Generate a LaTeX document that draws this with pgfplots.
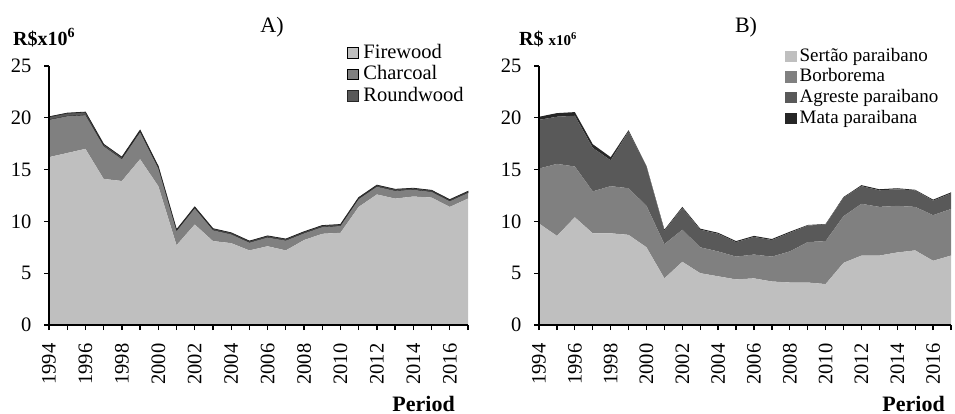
\documentclass[border=0pt]{standalone}
\usepackage{pgfplots}
\pgfplotsset{compat=1.18}
\usepackage{pgfplotstable}
\usepackage{fontspec}
\setmainfont{Liberation Serif}
\definecolor{cL}{HTML}{BFBFBF}
\definecolor{cM}{HTML}{808080}
\definecolor{cD}{HTML}{595959}
\definecolor{cK}{HTML}{262626}
\pgfplotstableread{
year fire char round
1994 16.2 3.60 0.30
1995 16.6 3.55 0.30
1996 17.0 3.25 0.30
1997 14.1 3.15 0.20
1998 13.9 2.10 0.20
1999 16.0 2.60 0.20
2000 13.4 1.70 0.20
2001 7.7 1.35 0.15
2002 9.7 1.55 0.15
2003 8.1 1.05 0.15
2004 7.9 0.85 0.15
2005 7.2 0.75 0.15
2006 7.6 0.85 0.15
2007 7.2 0.95 0.15
2008 8.2 0.65 0.15
2009 8.8 0.65 0.15
2010 8.9 0.65 0.15
2011 11.4 0.75 0.15
2012 12.6 0.75 0.15
2013 12.2 0.75 0.15
2014 12.4 0.65 0.15
2015 12.3 0.55 0.15
2016 11.4 0.55 0.15
2017 12.2 0.55 0.15
}\dataA
\pgfplotstableread{
year sert borb agr mata
1994 9.80 5.30 4.70 0.30
1995 8.60 6.95 4.55 0.35
1996 10.40 4.90 4.90 0.35
1997 8.85 4.05 4.20 0.35
1998 8.85 4.55 2.50 0.30
1999 8.70 4.50 5.50 0.10
2000 7.50 4.00 3.80 0.05
2001 4.50 3.30 1.30 0.10
2002 6.10 3.10 2.10 0.10
2003 5.00 2.50 1.70 0.10
2004 4.70 2.40 1.70 0.10
2005 4.40 2.20 1.40 0.10
2006 4.50 2.30 1.70 0.10
2007 4.20 2.40 1.60 0.10
2008 4.10 3.00 1.80 0.10
2009 4.10 3.90 1.60 0.05
2010 3.95 4.15 1.60 0.05
2011 6.00 4.50 1.80 0.05
2012 6.70 5.00 1.70 0.10
2013 6.70 4.70 1.60 0.10
2014 7.00 4.50 1.60 0.10
2015 7.20 4.20 1.60 0.05
2016 6.20 4.40 1.40 0.10
2017 6.70 4.50 1.50 0.10
}\dataB
\pgfplotsset{
  mystyle/.style={
    scale only axis, height=259bp, clip=false,
    xmin=1994, xmax=2017, ymin=0, ymax=25,
    axis x line=bottom, axis y line=left,
    axis line style={-, line width=1.3bp, black},
    tick align=outside, major tick length=5bp, minor tick length=5bp,
    tick style={black, line width=1.3bp},
    xtick={1994,1996,...,2016}, minor xtick={1995,1997,...,2017},
    ytick={0,5,...,25},
    /pgf/number format/1000 sep={},
    /pgf/number format/assume math mode=true,
    tick label style={font=\fontsize{20.5bp}{24bp}\selectfont},
    x tick label style={rotate=90, anchor=east},
    xticklabel shift=10bp, yticklabel shift=9bp,
    stack plots=y, area style, enlargelimits=false,
    legend cell align=left,
  },
}
\begin{document}
\begin{tikzpicture}
\useasboundingbox (-49bp,-89bp) rectangle (906bp,325bp);
\begin{axis}[mystyle, width=419bp, at={(0bp,0bp)},
  legend style={draw=none, fill=none, at={(0.711,1.087)}, anchor=north west, inner sep=0pt,
    font=\fontsize{20.5bp}{24bp}\selectfont,
    nodes={inner sep=0pt, text height=14.5bp, text depth=4bp},
    row sep=3bp,
    /tikz/every odd column/.append style={column sep=5bp}},
  legend image code/.code={\draw[#1, line width=0.8bp] (0bp,-5.25bp) rectangle (10.5bp,5.25bp);}]
\addplot[fill=cL, draw=none] table[x=year, y=fire]{\dataA} \closedcycle;
\addplot[fill=cM, draw=none] table[x=year, y=char]{\dataA} \closedcycle;
\addplot[fill=cD, draw=black!85, line width=0.8bp] table[x=year, y=round]{\dataA} \closedcycle;
\legend{Firewood, Charcoal, Roundwood}
\node[anchor=base, inner sep=0pt, font=\fontsize{22bp}{26bp}\selectfont] at (rel axis cs:0,1) [shift={(223bp,34bp)}] {A)};
\node[anchor=base west, inner sep=0pt, font=\bfseries\fontsize{20bp}{24bp}\selectfont] at (rel axis cs:0,1) [shift={(-36bp,21bp)}] {R\$x10\textsuperscript{6}};
\node[anchor=base east, inner sep=0pt, font=\bfseries\fontsize{22bp}{26bp}\selectfont] at (rel axis cs:1,0) [shift={(-13bp,-86bp)}] {Period};
\end{axis}
\begin{axis}[mystyle, width=412bp, at={(490bp,0bp)},
  legend style={draw=none, fill=none, at={(0.597,1.073)}, anchor=north west, inner sep=0pt,
    font=\fontsize{19bp}{23bp}\selectfont,
    nodes={inner sep=0pt, text height=14bp, text depth=4bp},
    row sep=2.7bp,
    /tikz/every odd column/.append style={column sep=3bp}},
  legend image code/.code={\fill[#1] (0bp,-5.75bp) rectangle (11.5bp,5.75bp);}]
\addplot[fill=cL, draw=none] table[x=year, y=sert]{\dataB} \closedcycle;
\addplot[fill=cM, draw=none] table[x=year, y=borb]{\dataB} \closedcycle;
\addplot[fill=cD, draw=none] table[x=year, y=agr]{\dataB} \closedcycle;
\addplot[fill=cK, draw=none] table[x=year, y=mata]{\dataB} \closedcycle;
\legend{Sertão paraibano, Borborema, Agreste paraibano, Mata paraibana}
\node[anchor=base, inner sep=0pt, font=\fontsize{22bp}{26bp}\selectfont] at (rel axis cs:0,1) [shift={(207bp,34bp)}] {B)};
\node[anchor=base west, inner sep=0pt] at (rel axis cs:0,1) [shift={(-20bp,21bp)}] {\bfseries\fontsize{20bp}{24bp}\selectfont R\$ \fontsize{15bp}{18bp}\selectfont x10\textsuperscript{6}};
\node[anchor=base east, inner sep=0pt, font=\bfseries\fontsize{22bp}{26bp}\selectfont] at (rel axis cs:1,0) [shift={(-6bp,-86bp)}] {Period};
\end{axis}
\end{tikzpicture}
\end{document}
